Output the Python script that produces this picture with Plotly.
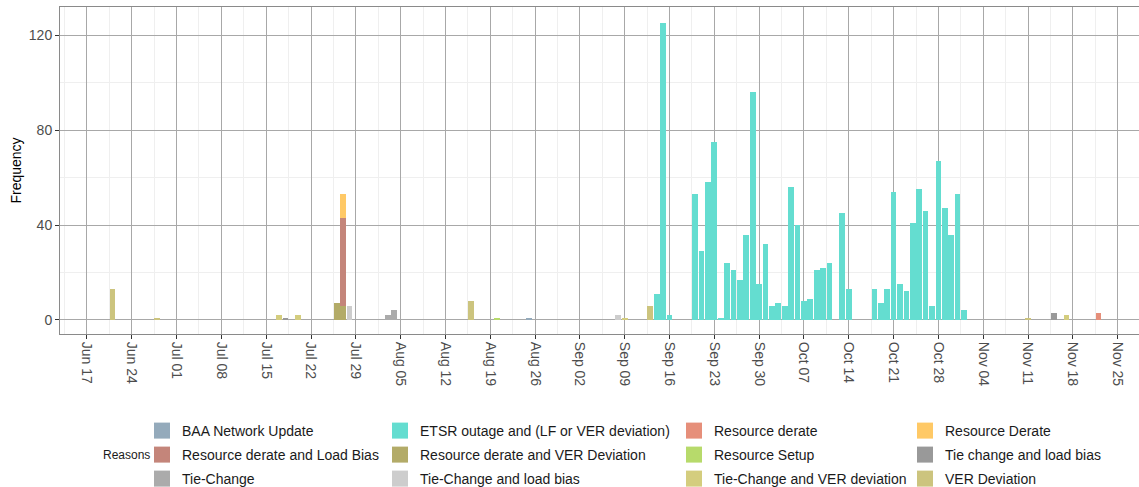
import plotly.graph_objects as go
import pandas as pd

# ---------------- data ----------------
reasons = [
    "BAA Network Update",
    "ETSR outage and (LF or VER deviation)",
    "Resource derate",
    "Resource Derate",
    "Resource derate and Load Bias",
    "Resource derate and VER Deviation",
    "Resource Setup",
    "Tie change and load bias",
    "Tie-Change",
    "Tie-Change and load bias",
    "Tie-Change and VER deviation",
    "VER Deviation",
]

baa_dates = ["2024-08-25"]
baa_values = [1]

etsr_dates = [
    "2024-09-14", "2024-09-15", "2024-09-16", "2024-09-20", "2024-09-21", "2024-09-22",
    "2024-09-23", "2024-09-24", "2024-09-25", "2024-09-26", "2024-09-27", "2024-09-28",
    "2024-09-29", "2024-09-30", "2024-10-01", "2024-10-02", "2024-10-03", "2024-10-04",
    "2024-10-05", "2024-10-06", "2024-10-07", "2024-10-08", "2024-10-09", "2024-10-10",
    "2024-10-11", "2024-10-13", "2024-10-14", "2024-10-18", "2024-10-19", "2024-10-20",
    "2024-10-21", "2024-10-22", "2024-10-23", "2024-10-24", "2024-10-25", "2024-10-26",
    "2024-10-27", "2024-10-28", "2024-10-29", "2024-10-30", "2024-10-31", "2024-11-01",
]
etsr_values = [
    11, 125, 2, 53, 29, 58,
    75, 1, 24, 21, 17, 36,
    96, 15, 32, 6, 7, 6,
    56, 40, 8, 9, 21, 22,
    24, 45, 13, 13, 7, 13,
    54, 15, 12, 41, 55, 46,
    6, 67, 47, 36, 53, 4,
]

res_derate_dates = ["2024-11-22"]
res_derate_values = [3]

res_Derate_dates = ["2024-07-27"]
res_Derate_values = [10]

res_load_dates = ["2024-07-27"]
res_load_values = [37]

res_ver_dates = ["2024-07-26", "2024-07-27"]
res_ver_values = [7, 6]

setup_dates = ["2024-08-20"]
setup_values = [1]

tie_load_dates = ["2024-07-18", "2024-11-15"]
tie_load_values = [1, 3]

tie_change_dates = ["2024-08-03", "2024-08-04"]
tie_change_values = [2, 4]

tie_change_load_dates = ["2024-07-28", "2024-09-08"]
tie_change_load_values = [6, 2]

tie_ver_dates = ["2024-07-17", "2024-07-20", "2024-09-09", "2024-11-17"]
tie_ver_values = [2, 2, 1, 2]

ver_dates = ["2024-06-21", "2024-06-28", "2024-08-16", "2024-09-13", "2024-11-11"]
ver_values = [13, 1, 8, 6, 1]

tick_dates = pd.date_range("2024-06-17", "2024-11-25", freq="7D")
tick_labels = [
    "Jun 17", "Jun 24", "Jul 01", "Jul 08", "Jul 15", "Jul 22", "Jul 29", "Aug 05",
    "Aug 12", "Aug 19", "Aug 26", "Sep 02", "Sep 09", "Sep 16", "Sep 23", "Sep 30",
    "Oct 07", "Oct 14", "Oct 21", "Oct 28", "Nov 04", "Nov 11", "Nov 18", "Nov 25",
]
y_ticks = [0, 40, 80, 120]

# ---------------- styling ----------------
colors = {
    "BAA Network Update": "#94aabb",
    "ETSR outage and (LF or VER deviation)": "#64ddd0",
    "Resource derate": "#e68f7a",
    "Resource Derate": "#ffc966",
    "Resource derate and Load Bias": "#c4857a",
    "Resource derate and VER Deviation": "#b3ab68",
    "Resource Setup": "#b7da6b",
    "Tie change and load bias": "#999999",
    "Tie-Change": "#ababab",
    "Tie-Change and load bias": "#cdcdcd",
    "Tie-Change and VER deviation": "#d4cd7e",
    "VER Deviation": "#ccc47e",
}

series = {
    "BAA Network Update": (baa_dates, baa_values),
    "ETSR outage and (LF or VER deviation)": (etsr_dates, etsr_values),
    "Resource derate": (res_derate_dates, res_derate_values),
    "Resource Derate": (res_Derate_dates, res_Derate_values),
    "Resource derate and Load Bias": (res_load_dates, res_load_values),
    "Resource derate and VER Deviation": (res_ver_dates, res_ver_values),
    "Resource Setup": (setup_dates, setup_values),
    "Tie change and load bias": (tie_load_dates, tie_load_values),
    "Tie-Change": (tie_change_dates, tie_change_values),
    "Tie-Change and load bias": (tie_change_load_dates, tie_change_load_values),
    "Tie-Change and VER deviation": (tie_ver_dates, tie_ver_values),
    "VER Deviation": (ver_dates, ver_values),
}

FONT = "Liberation Sans, Arial, sans-serif"
DAY_MS = 86400000

fig = go.Figure()

# bars: reverse order so the first factor level stacks on top (ggplot style)
for r in reversed(reasons):
    d, v = series[r]
    fig.add_trace(go.Bar(
        x=pd.to_datetime(d), y=v, name=r,
        width=[0.9 * DAY_MS] * len(d),
        marker=dict(color=colors[r], line=dict(width=0)),
        showlegend=False,
    ))

W, H = 1139, 487
ML, MR, MT, MB = 60, 0, 7, 153
pw = W - ML - MR
ph = H - MT - MB
col_px = [154, 392, 686, 917]   # legend swatch left edges (px)
row_px = [431, 455, 479]        # legend row centres (px)

layout_legends = {}
for i, r in enumerate(reasons):
    row, col = divmod(i, 4)
    key = "legend" if i == 0 else f"legend{i + 1}"
    fig.add_trace(go.Scatter(
        x=[None], y=[None], mode="markers", name=r,
        marker=dict(symbol="square", size=16, color=colors[r]),
        showlegend=True, legend=key,
    ))
    layout_legends[key] = dict(
        x=(col_px[col] - 12 - ML) / pw,
        y=(H - MB - row_px[row]) / ph,
        xanchor="left", yanchor="middle",
        orientation="v",
        bgcolor="rgba(0,0,0,0)",
        font=dict(family=FONT, size=14, color="#1a1a1a"),
        itemsizing="trace",
    )

fig.update_layout(
    width=W, height=H,
    margin=dict(l=ML, r=MR, t=MT, b=MB, autoexpand=False),
    paper_bgcolor="white", plot_bgcolor="white",
    barmode="stack", bargap=0,
    font=dict(family=FONT, size=14, color="#4d4d4d"),
    **layout_legends,
)

fig.add_annotation(
    text="Reasons", xref="paper", yref="paper",
    x=(101 - ML) / pw, y=(H - MB - 455) / ph,
    xanchor="left", yanchor="middle", showarrow=False,
    font=dict(family=FONT, size=12, color="#1a1a1a"),
)

fig.update_xaxes(
    type="date",
    range=["2024-06-12 19:00", "2024-11-28 08:00"],
    tickvals=tick_dates, ticktext=tick_labels,
    tickangle=90,
    tickfont=dict(family=FONT, size=14, color="#4d4d4d"),
    ticks="outside", ticklen=4, tickcolor="#333333", tickwidth=1,
    showgrid=True, gridcolor="#a8a8a8", gridwidth=0.7,
    minor=dict(tick0="2024-06-20 12:00", dtick=7 * DAY_MS, showgrid=True,
               gridcolor="#efefef", gridwidth=0.7),
    showline=True, linecolor="#8a8a8a", linewidth=1, mirror=True,
    zeroline=False, automargin=False,
)

fig.update_yaxes(
    range=[-5.9, 131.8],
    tickvals=y_ticks,
    tickfont=dict(family=FONT, size=14, color="#4d4d4d"),
    ticks="outside", ticklen=4, tickcolor="#333333", tickwidth=1,
    showgrid=True, gridcolor="#a8a8a8", gridwidth=0.7,
    minor=dict(dtick=20, showgrid=True, gridcolor="#efefef", gridwidth=0.7),
    showline=True, linecolor="#8a8a8a", linewidth=1, mirror=True,
    zeroline=False, automargin=False,
    title=dict(text="Frequency", font=dict(family=FONT, size=14, color="#000000"),
               standoff=3),
)

fig.write_html(
    "out.html",
    config={"displayModeBar": False},
    post_script="document.body.style.margin='0px';"
                "document.documentElement.style.overflow='hidden';",
)
